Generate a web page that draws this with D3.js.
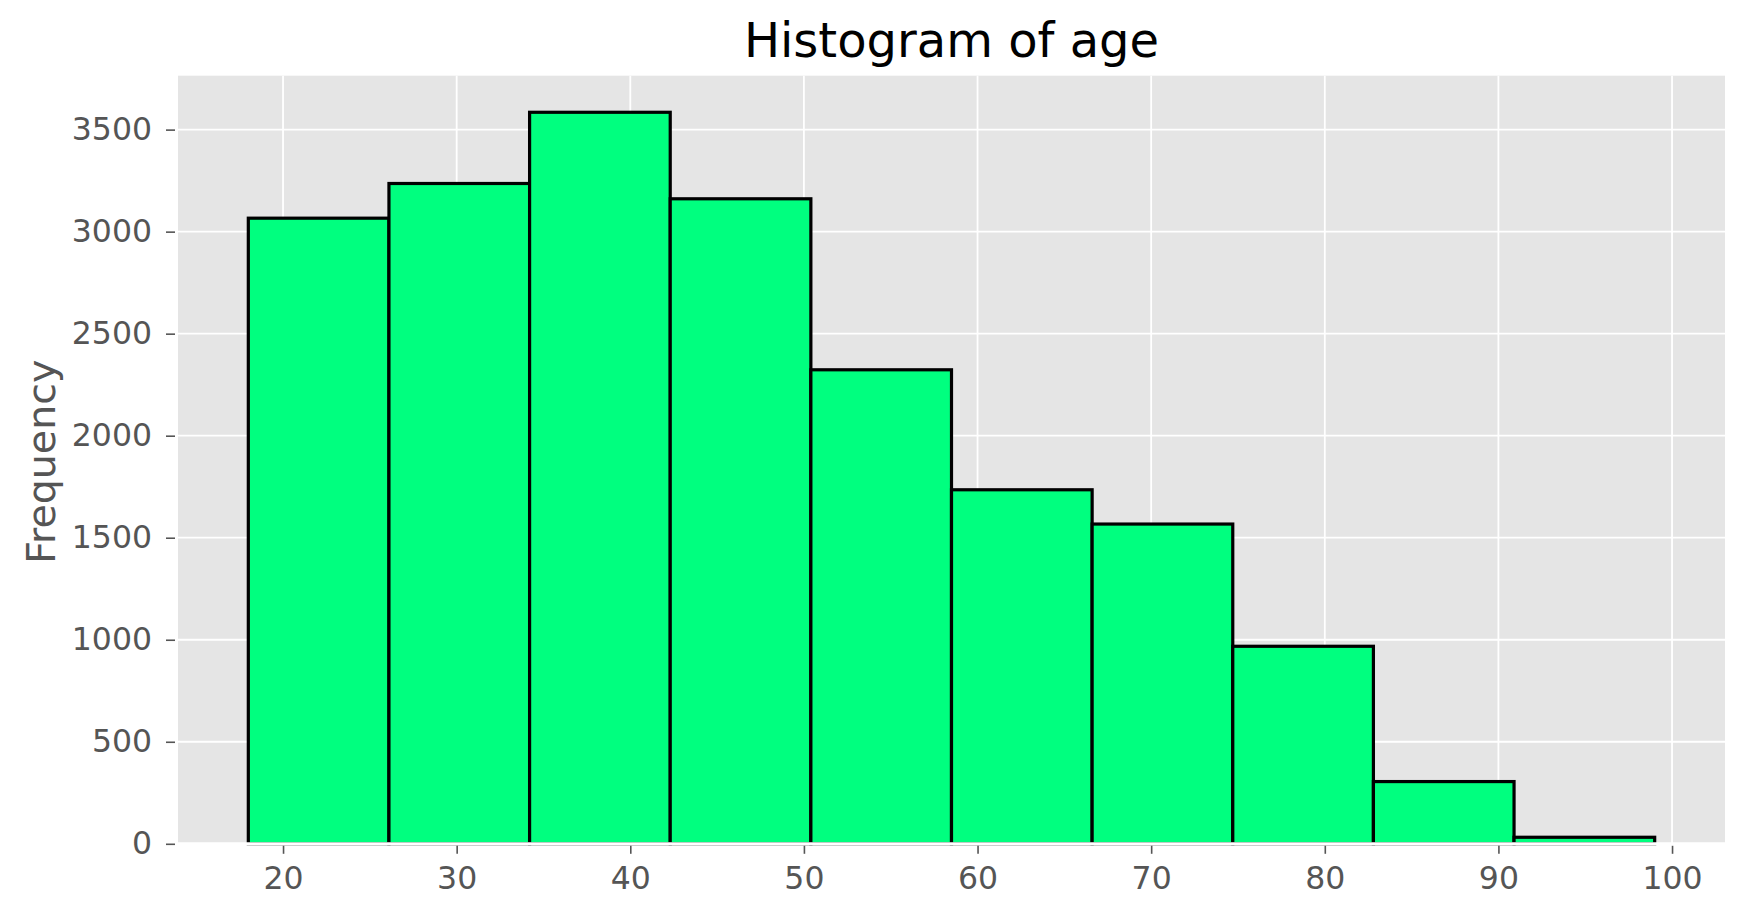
<!DOCTYPE html>
<html>
<head>
<meta charset="utf-8">
<script src="https://cdn.jsdelivr.net/npm/d3@7"></script>
<style>
  html, body { margin: 0; padding: 0; background: #ffffff; }
  svg { display: block; font-family: "DejaVu Sans", sans-serif; }
</style>
</head>
<body>
<div id="chart"></div>
<script>
// ---- data ----
const binEdges = [18, 26.1, 34.2, 42.3, 50.4, 58.5, 66.6, 74.7, 82.8, 90.9, 99];
const counts = [3066, 3236, 3585, 3161, 2323, 1735, 1567, 968, 305, 32];
const xTickValues = [20, 30, 40, 50, 60, 70, 80, 90, 100];
const yTickValues = [0, 500, 1000, 1500, 2000, 2500, 3000, 3500];
const titleText = "Histogram of age";
const yLabelText = "Frequency";

// ---- layout ----
const W = 1745, H = 916;
const plot = { left: 178, right: 1725, top: 75.7, bottom: 843.8 };

const svg = d3.select("#chart").append("svg")
  .attr("width", W).attr("height", H);

const xMin = binEdges[0], xMax = binEdges[binEdges.length - 1];
const xPad = (xMax - xMin) * 0.05;
const x = d3.scaleLinear().domain([xMin - xPad, xMax + xPad]).range([plot.left, plot.right]);
const y = d3.scaleLinear().domain([0, d3.max(counts) * 1.05]).range([plot.bottom, plot.top]);

// background
svg.append("rect")
  .attr("x", plot.left).attr("y", plot.top)
  .attr("width", plot.right - plot.left).attr("height", plot.bottom - plot.top)
  .attr("fill", "#E5E5E5");

// grid
const grid = svg.append("g");
grid.selectAll("line.vx").data(xTickValues).enter().append("line")
  .attr("x1", d => x(d)).attr("x2", d => x(d))
  .attr("y1", plot.top).attr("y2", plot.bottom)
  .attr("stroke", "#ffffff").attr("stroke-width", 1.8);
grid.selectAll("line.hy").data(yTickValues).enter().append("line")
  .attr("y1", d => y(d)).attr("y2", d => y(d))
  .attr("x1", plot.left).attr("x2", plot.right)
  .attr("stroke", "#ffffff").attr("stroke-width", 1.8);

// bars
const bins = counts.map((c, i) => ({ x0: binEdges[i], x1: binEdges[i + 1], c }));
svg.append("g").selectAll("rect").data(bins).enter().append("rect")
  .attr("x", d => x(d.x0))
  .attr("width", d => x(d.x1) - x(d.x0))
  .attr("y", d => y(d.c))
  .attr("height", d => y(0) - y(d.c))
  .attr("fill", "#00FF7F")
  .attr("stroke", "#000000")
  .attr("stroke-width", 3.2);

// white bottom spine (ggplot style) drawn over the bars
svg.append("line")
  .attr("x1", plot.left).attr("x2", plot.right)
  .attr("y1", plot.bottom).attr("y2", plot.bottom)
  .attr("stroke", "#ffffff").attr("stroke-width", 3.2);

// axes
const xAxis = d3.axisBottom(x).tickValues(xTickValues).tickSize(10).tickPadding(13).tickFormat(d3.format("d"));
const yAxis = d3.axisLeft(y).tickValues(yTickValues).tickSize(11).tickPadding(16).tickFormat(d3.format("d"));

const gx = svg.append("g").attr("transform", `translate(0,${plot.bottom})`).call(xAxis);
const gy = svg.append("g").attr("transform", `translate(${plot.left},0)`).call(yAxis);
[gx, gy].forEach(g => {
  g.select(".domain").remove();
  g.selectAll(".tick line").attr("stroke", "#555555").attr("stroke-width", 1.6);
  g.selectAll(".tick text").attr("fill", "#555555")
    .style("font-family", "'DejaVu Sans', sans-serif").style("font-size", "31.5px");
});
// keep the tick marks outside the white spine
gy.selectAll(".tick line").attr("x2", -12).attr("x1", -3);
gx.selectAll(".tick line").attr("y1", 2).attr("y2", 10);
gy.selectAll(".tick text").attr("x", -26);

// title
svg.append("text")
  .attr("x", (plot.left + plot.right) / 2).attr("y", 57)
  .attr("text-anchor", "middle")
  .attr("fill", "#000000")
  .style("font-size", "48px")
  .text(titleText);

// y label
svg.append("text")
  .attr("transform", `translate(55,${(plot.top + plot.bottom) / 2 + 2}) rotate(-90)`)
  .attr("text-anchor", "middle")
  .attr("fill", "#555555")
  .style("font-size", "39.5px")
  .text(yLabelText);
</script>
</body>
</html>
